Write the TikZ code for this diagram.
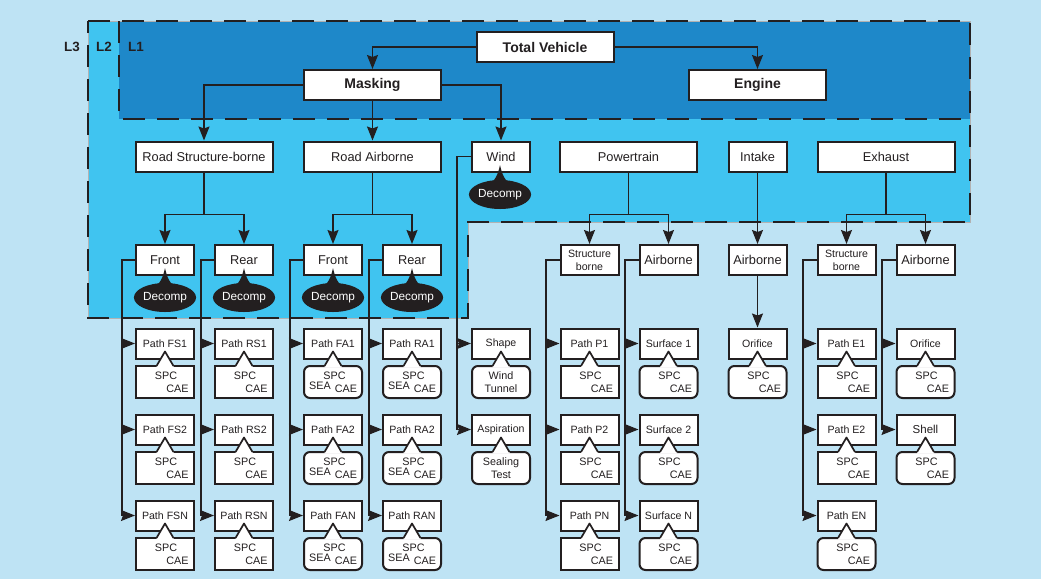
\documentclass[tikz,border=0pt]{standalone}
\usepackage{fontspec}
\setmainfont{Liberation Sans}
\usetikzlibrary{arrows.meta,shapes.geometric}
\definecolor{bgl}{HTML}{BEE3F4}
\definecolor{midb}{HTML}{40C4F0}
\definecolor{darkb}{HTML}{1E88C9}
\definecolor{txt}{HTML}{231F20}
\newcommand{\szTop}{\fontsize{14}{16}\selectfont}
\newcommand{\szMid}{\fontsize{12.8}{14}\selectfont}
\newcommand{\szLeaf}{\fontsize{10.6}{12.7}\selectfont}
\newcommand{\szDec}{\fontsize{11.8}{13}\selectfont}
\newcommand{\szLow}{\fontsize{10.8}{12.3}\selectfont}
% lower-box contents: name, cx, top
\newcommand{\spccae}[3]{%
  \node[lowtxt] (#1-s) at (#2+1,#3+10) {SPC};
  \node[lowtxt] (#1-c) at (#2+12.5,#3+23) {CAE};}
\newcommand{\seacae}[3]{%
  \node[lowtxt] (#1-s) at (#2+1.5,#3+10) {SPC};
  \node[lowtxt] (#1-e) at (#2-13,#3+19.5) {SEA};
  \node[lowtxt] (#1-c) at (#2+13,#3+23) {CAE};}
\newcommand{\twol}[4]{%
  \node[lowtxt, align=center] (#2-s) at (#3,#4+16) {#1};}
% leaf: name, cx, cy, text, lower style, content macro
\newcommand{\leafitem}[6]{%
  \node[leafbox] (#1) at (#2,#3) {#4};
  \node[#5] (#1-b) at (#2,#3+38.5) {};
  \fill[white] (#2-8.5,#3+22.5) -- (#2,#3+8) -- (#2+8.5,#3+22.5) -- (#2+8.5,#3+24) -- (#2-8.5,#3+24) -- cycle;
  \draw[txt, line width=1.7pt, line join=round] (#2-8.5,#3+22.5) -- (#2,#3+8) -- (#2+8.5,#3+22.5);
  #6{#1}{#2}{#3+22.5}}
% decomp: name, cx, ellipse cy, apex y
\newcommand{\decomp}[4]{%
  \node[decompst] (#1) at (#2,#3) {Decomp};
  \fill[txt] (#2-12,#3-10) .. controls (#2-5,#3-13) and (#2-2,#3-20) .. (#2,#4)
     .. controls (#2+2,#3-20) and (#2+5,#3-13) .. (#2+12,#3-10) -- cycle;}
% trunk: parent, x, bottom y, children
\newcommand{\trunk}[4]{%
  \coordinate (#1-tr) at (#2,#3);
  \draw[conn] (#1.west) -| (#1-tr);
  \foreach \c in {#4} {\draw[arr] (#1-tr |- \c.west) -- (\c.west);}}
\begin{document}
\begin{tikzpicture}[x=1pt,y=-1pt,
  box/.style={draw=txt, line width=2pt, fill=white, inner sep=0pt, text=txt, minimum height=30pt, align=center},
  topbox/.style={box, minimum width=137pt, font=\szTop\bfseries},
  bigbox/.style={box, minimum width=137pt, font=\szMid},
  smallbox/.style={box, minimum width=58pt, font=\szMid},
  sbbox/.style={box, minimum width=58pt, font=\szLeaf},
  leafbox/.style={box, minimum width=58pt, font=\szLeaf},
  lowsq/.style={draw=txt, line width=2pt, fill=white, minimum width=58pt, minimum height=32pt, inner sep=0pt},
  lowrd/.style={lowsq, rounded corners=6pt},
  lowtxt/.style={inner sep=0pt, text=txt, font=\szLow},
  decompst/.style={ellipse, fill=txt, text=white, minimum width=57pt, minimum height=29pt, inner sep=0pt, font=\szDec},
  conn/.style={draw=txt, line width=1.3pt},
  arr/.style={conn, -{Stealth[length=14pt,width=11pt,inset=2pt,fill=txt]}},
  dashline/.style={draw=txt, line width=2.6pt, dash pattern=on 22pt off 12pt},
  lvl/.style={text=txt, font=\fontsize{13.4}{15}\selectfont\bfseries, inner sep=0pt}
]
\useasboundingbox (0,0) rectangle (1041,579);
\fill[bgl] (0,0) rectangle (1041,579);
% regions
\fill[midb] (88,21) -- (970,21) -- (970,222) -- (468,222) -- (468,318) -- (88,318) -- cycle;
\fill[darkb] (119,21) rectangle (970,119);
\draw[gray!60, line width=0.7pt] (88,21) -- (970,21) -- (970,222) -- (468,222) -- (468,318) -- (88,318) -- cycle;
\draw[dashline] (88,21) -- (970,21) -- (970,222) -- (468,222) -- (468,318) -- (88,318) -- cycle;
\draw[dashline] (119,21) -- (119,119) -- (970,119);
\node[lvl] (l3) at (72,47) {L3};
\node[lvl] (l2) at (104,47) {L2};
\node[lvl] (l1) at (136,47) {L1};

% level 1
\node[topbox] (tv) at (545,47) {Total Vehicle};
\node[topbox] (mask) at (372.5,85) {Masking};
\node[topbox] (eng) at (757.5,85) {Engine};
% level 2
\node[bigbox] (rsb) at (204,156.5) {Road Structure-borne};
\node[bigbox] (rab) at (372.5,156.5) {Road Airborne};
\node[smallbox] (wind) at (501,156.5) {Wind};
\node[bigbox] (pt) at (628.5,156.5) {Powertrain};
\node[smallbox] (intk) at (757.5,156.5) {Intake};
\node[bigbox] (exh) at (886,156.5) {Exhaust};
% level 3
\node[smallbox] (fr1) at (165,260) {Front};
\node[smallbox] (re1) at (244,260) {Rear};
\node[smallbox] (fr2) at (333,260) {Front};
\node[smallbox] (re2) at (412,260) {Rear};
\node[sbbox] (ptsb) at (589.5,260) {Structure\\borne};
\node[smallbox] (ptab) at (668.5,260) {Airborne};
\node[smallbox] (inab) at (757.5,260) {Airborne};
\node[sbbox] (exsb) at (846.5,260) {Structure\\borne};
\node[smallbox] (exab) at (925.5,260) {Airborne};

\decomp{dfr1}{165}{297.5}{268}
\decomp{dre1}{244}{297.5}{268}
\decomp{dfr2}{333}{297.5}{268}
\decomp{dre2}{412}{297.5}{268}
\decomp{dwind}{500}{194.5}{165}

% connectors levels 1-3
\draw[arr] (tv.west) -| (mask.north);
\draw[arr] (tv.east) -| (eng.north);
\draw[arr] (mask.west) -| (rsb.north);
\draw[arr] (mask.south) -- (rab.north);
\draw[arr] (mask.east) -| (wind.north);
\draw[conn] (rsb.south) -- ++(0,42) coordinate (rsbj);
\draw[arr] (rsbj) -| (fr1.north);
\draw[arr] (rsbj) -| (re1.north);
\draw[conn] (rab.south) -- ++(0,42) coordinate (rabj);
\draw[arr] (rabj) -| (fr2.north);
\draw[arr] (rabj) -| (re2.north);
\draw[conn] (pt.south) -- ++(0,42) coordinate (ptj);
\draw[arr] (ptj) -| (ptsb.north);
\draw[arr] (ptj) -| (ptab.north);
\draw[arr] (intk.south) -- (inab.north);
\draw[conn] (exh.south) -- ++(0,42) coordinate (exj);
\draw[arr] (exj) -| (exsb.north);
\draw[arr] (exj) -| (exab.north);

% leaves
\leafitem{pfs1}{165}{343.5}{Path FS1}{lowsq}{\spccae}
\leafitem{pfs2}{165}{429.5}{Path FS2}{lowsq}{\spccae}
\leafitem{pfsn}{165}{515.5}{Path FSN}{lowsq}{\spccae}
\leafitem{prs1}{244}{343.5}{Path RS1}{lowsq}{\spccae}
\leafitem{prs2}{244}{429.5}{Path RS2}{lowsq}{\spccae}
\leafitem{prsn}{244}{515.5}{Path RSN}{lowsq}{\spccae}
\leafitem{pfa1}{333}{343.5}{Path FA1}{lowrd}{\seacae}
\leafitem{pfa2}{333}{429.5}{Path FA2}{lowrd}{\seacae}
\leafitem{pfan}{333}{515.5}{Path FAN}{lowrd}{\seacae}
\leafitem{pra1}{412}{343.5}{Path RA1}{lowrd}{\seacae}
\leafitem{pra2}{412}{429.5}{Path RA2}{lowrd}{\seacae}
\leafitem{pran}{412}{515.5}{Path RAN}{lowrd}{\seacae}
\leafitem{shape}{501}{343.5}{Shape}{lowrd}{\twol{Wind\\Tunnel}}
\leafitem{aspi}{501}{429.5}{Aspiration}{lowrd}{\twol{Sealing\\Test}}
\leafitem{pp1}{589.5}{343.5}{Path P1}{lowsq}{\spccae}
\leafitem{pp2}{589.5}{429.5}{Path P2}{lowsq}{\spccae}
\leafitem{ppn}{589.5}{515.5}{Path PN}{lowsq}{\spccae}
\leafitem{sf1}{668.5}{343.5}{Surface 1}{lowrd}{\spccae}
\leafitem{sf2}{668.5}{429.5}{Surface 2}{lowrd}{\spccae}
\leafitem{sfn}{668.5}{515.5}{Surface N}{lowrd}{\spccae}
\leafitem{ori1}{757.5}{343.5}{Orifice}{lowrd}{\spccae}
\leafitem{pe1}{846.5}{343.5}{Path E1}{lowsq}{\spccae}
\leafitem{pe2}{846.5}{429.5}{Path E2}{lowsq}{\spccae}
\leafitem{pen}{846.5}{515.5}{Path EN}{lowrd}{\spccae}
\leafitem{ori2}{925.5}{343.5}{Orifice}{lowrd}{\spccae}
\leafitem{shell}{925.5}{429.5}{\fontsize{11.5}{13}\selectfont Shell}{lowrd}{\spccae}

% trunks
\trunk{fr1}{122}{515.5}{pfs1,pfs2,pfsn}
\trunk{re1}{201}{515.5}{prs1,prs2,prsn}
\trunk{fr2}{290}{515.5}{pfa1,pfa2,pfan}
\trunk{re2}{369}{515.5}{pra1,pra2,pran}
\trunk{wind}{457}{429.5}{shape,aspi}
\trunk{ptsb}{546}{515.5}{pp1,pp2,ppn}
\trunk{ptab}{625}{515.5}{sf1,sf2,sfn}
\trunk{exsb}{803}{515.5}{pe1,pe2,pen}
\trunk{exab}{882}{429.5}{ori2,shell}
\draw[arr] (inab.south) -- (ori1.north);
\end{tikzpicture}
\end{document}
